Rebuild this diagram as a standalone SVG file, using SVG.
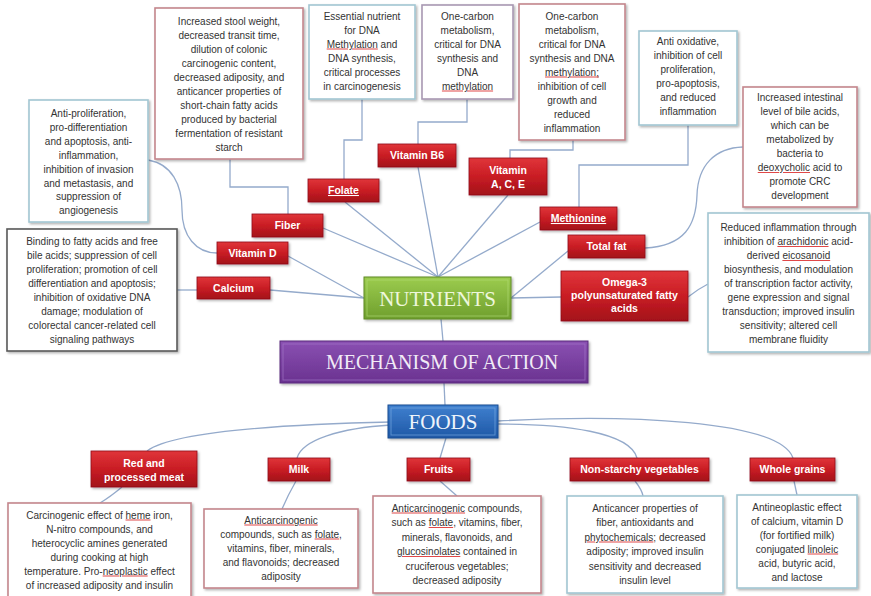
<svg xmlns="http://www.w3.org/2000/svg" width="871" height="596" viewBox="0 0 871 596">
<defs>
<linearGradient id="red" x1="0" y1="0" x2="0" y2="1">
<stop offset="0" stop-color="#e0353a"/><stop offset="0.5" stop-color="#c91d24"/><stop offset="1" stop-color="#a3111a"/>
</linearGradient>
<linearGradient id="green" x1="0" y1="0" x2="0" y2="1">
<stop offset="0" stop-color="#9ccc4e"/><stop offset="1" stop-color="#6f9f2e"/>
</linearGradient>
<linearGradient id="purple" x1="0" y1="0" x2="0" y2="1">
<stop offset="0" stop-color="#8a50b2"/><stop offset="1" stop-color="#6a3290"/>
</linearGradient>
<linearGradient id="blue" x1="0" y1="0" x2="0" y2="1">
<stop offset="0" stop-color="#3f80cf"/><stop offset="1" stop-color="#1f58a6"/>
</linearGradient>
<filter id="sh" x="-10%" y="-10%" width="130%" height="130%">
<feDropShadow dx="1.5" dy="1.5" stdDeviation="1" flood-color="#000" flood-opacity="0.3"/>
</filter>
</defs>
<style>
.tb rect{fill:#fff;stroke-width:1.6;filter:url(#sh)}
.tb text{font-family:"Liberation Sans",Arial,sans-serif;font-size:10px;fill:#333;text-anchor:middle}
.bR rect{stroke:#c4868c}.bB rect{stroke:#a2c6d2}.bK rect{stroke:#595959}.bP rect{stroke:#a898b2}
.rb rect{fill:url(#red);stroke:#8e1016;stroke-width:0.8;filter:url(#sh)}
.rb text{font-family:"Liberation Sans",Arial,sans-serif;font-weight:bold;font-size:10.5px;fill:#fff;text-anchor:middle}
.ul{text-decoration:underline}
.tb .wv{text-decoration:underline;fill:#e04848}
.tb .wv tspan{fill:#333}
.ttl text{font-family:"Liberation Serif","Times New Roman",serif;text-anchor:middle}
#connectors path{fill:none;stroke:#94aacb;stroke-width:1.3}
</style>
<rect width="871" height="596" fill="#fff"/>
<g id="connectors">
<path d="M418,167 L438,277"/>
<path d="M345,202 L438,277"/>
<path d="M323,228 L438,277"/>
<path d="M288,256 L364,298"/>
<path d="M270,290 L364,298"/>
<path d="M508,195 L438,277"/>
<path d="M540,222 L438,277"/>
<path d="M568,251 L511,298"/>
<path d="M561,297 L511,298"/>
<path d="M441,319 L443,341"/>
<path d="M444,383 L445,405"/>
<path d="M230,159 V187 H288 V214"/>
<path d="M362,99 V140 H344 V179"/>
<path d="M467,99 V122 H418 V144"/>
<path d="M573,140 V150 H510 V158"/>
<path d="M688,125 V165 H579 V207"/>
<path d="M645,248 C685,246 696,225 697,195 C698,165 715,148 743,147"/>
<path d="M688,297 Q698,289 708,284"/>
<path d="M148,160 C172,164 182,185 182,210 C182,236 196,253 217,253"/>
<path d="M177,290 H197"/>
<path d="M391,422 C300,424 175,430 147,451"/>
<path d="M391,425 C340,428 302,440 297,458"/>
<path d="M446,438 L440,458"/>
<path d="M498,424 C565,424 630,432 637,458"/>
<path d="M498,421 C625,414 780,420 793,458"/>
<path d="M122,487 Q110,497 100,503"/>
<path d="M296,481 Q288,495 282,509"/>
<path d="M440,481 L457,496"/>
<path d="M635,481 Q642,490 643,496"/>
<path d="M794,481 L797,495"/>
</g>

<g id="nutrients" class="ttl">
<rect x="364" y="277" width="147" height="42" fill="url(#green)" stroke="#5f8a26" stroke-width="1" filter="url(#sh)"/>
<rect x="367" y="280" width="141" height="36" fill="none" stroke="#b5dd7a" stroke-width="1" opacity="0.6"/>
<text x="437.5" y="305.5" font-size="21" fill="#eef7dc">NUTRIENTS</text>
</g>
<g id="mechanism" class="ttl">
<rect x="280" y="341" width="308" height="42" fill="url(#purple)" stroke="#5a2a7c" stroke-width="1" filter="url(#sh)"/>
<rect x="283" y="344" width="302" height="36" fill="none" stroke="#a97ccb" stroke-width="1" opacity="0.6"/>
<text x="442" y="369" font-size="20" fill="#f1ebf6">MECHANISM OF ACTION</text>
</g>
<g id="foods" class="ttl">
<rect x="388" y="405" width="110" height="33" fill="url(#blue)" stroke="#184d92" stroke-width="1" filter="url(#sh)"/>
<rect x="391" y="408" width="104" height="27" fill="none" stroke="#7fb0e6" stroke-width="1" opacity="0.6"/>
<text x="443" y="429" font-size="21" fill="#eef4fb">FOODS</text>
</g>

<g id="vitaminb6" class="rb"><rect x="378" y="144" width="78" height="23"/><text x="417" y="159">Vitamin B6</text></g>
<g id="folate" class="rb"><rect x="308" y="179" width="71" height="23"/><text x="343.5" y="194" class="ul">Folate</text></g>
<g id="fiber" class="rb"><rect x="252" y="214" width="71" height="23"/><text x="287.5" y="229">Fiber</text></g>
<g id="vitamind" class="rb"><rect x="217" y="242" width="71" height="22"/><text x="252.5" y="256.5">Vitamin D</text></g>
<g id="calcium" class="rb"><rect x="197" y="277" width="73" height="22"/><text x="233.5" y="291.5">Calcium</text></g>
<g id="vitaminace" class="rb"><rect x="469" y="158" width="78" height="37"/><text x="508" y="173.5">Vitamin</text><text x="508" y="187.5">A, C, E</text></g>
<g id="methionine" class="rb"><rect x="540" y="207" width="77" height="23"/><text x="578.5" y="222" class="ul">Methionine</text></g>
<g id="totalfat" class="rb"><rect x="568" y="235" width="77" height="23"/><text x="606.5" y="250">Total fat</text></g>
<g id="omega3" class="rb"><rect x="561" y="271" width="127" height="50"/><text x="624.5" y="286">Omega-3</text><text x="624.5" y="299">polyunsaturated fatty</text><text x="624.5" y="312">acids</text></g>
<g id="redmeat" class="rb"><rect x="91" y="451" width="106" height="36"/><text x="144" y="466.5">Red and</text><text x="144" y="480.5">processed meat</text></g>
<g id="milk" class="rb"><rect x="268" y="458" width="62" height="23"/><text x="299" y="473">Milk</text></g>
<g id="fruits" class="rb"><rect x="407" y="458" width="63" height="23"/><text x="438.5" y="473">Fruits</text></g>
<g id="nonstarchy" class="rb"><rect x="570" y="458" width="139" height="23"/><text x="639.5" y="473">Non-starchy vegetables</text></g>
<g id="wholegrains" class="rb"><rect x="750" y="458" width="85" height="23"/><text x="792.5" y="473">Whole grains</text></g>

<g id="fiber-text" class="tb bR"><rect x="155" y="8" width="148" height="151"/>
<text x="229" y="24.5">Increased stool weight,</text>
<text x="229" y="38.5">decreased transit time,</text>
<text x="229" y="52.5">dilution of colonic</text>
<text x="229" y="66.5">carcinogenic content,</text>
<text x="229" y="80.5">decreased adiposity, and</text>
<text x="229" y="94.5">anticancer properties of</text>
<text x="229" y="108.5">short-chain fatty acids</text>
<text x="229" y="122.5">produced by bacterial</text>
<text x="229" y="136.5">fermentation of resistant</text>
<text x="229" y="150.5">starch</text>
</g>
<g id="vitamind-text" class="tb bB"><rect x="29" y="100" width="119" height="122"/>
<text x="88.5" y="117">Anti-proliferation,</text>
<text x="88.5" y="131">pro-differentiation</text>
<text x="88.5" y="145">and apoptosis, anti-</text>
<text x="88.5" y="159">inflammation,</text>
<text x="88.5" y="173">inhibition of invasion</text>
<text x="88.5" y="187">and metastasis, and</text>
<text x="88.5" y="200">suppression of</text>
<text x="88.5" y="214">angiogenesis</text>
</g>
<g id="calcium-text" class="tb bK"><rect x="7" y="229" width="170" height="122"/>
<text x="92" y="244.5">Binding to fatty acids and free</text>
<text x="92" y="258.5">bile acids; suppression of cell</text>
<text x="92" y="272.5">proliferation; promotion of cell</text>
<text x="92" y="286.5">differentiation and apoptosis;</text>
<text x="92" y="300.5">inhibition of oxidative DNA</text>
<text x="92" y="314.5">damage; modulation of</text>
<text x="92" y="328.5">colorectal cancer-related cell</text>
<text x="92" y="342.5">signaling  pathways</text>
</g>
<g id="folate-text" class="tb bB"><rect x="309" y="5" width="106" height="94"/>
<text x="362" y="19.5">Essential nutrient</text>
<text x="362" y="33.5">for DNA</text>
<text x="362" y="47.5"><tspan class="wv"><tspan>Methylation</tspan></tspan> and</text>
<text x="362" y="61.5">DNA synthesis,</text>
<text x="362" y="75.5">critical processes</text>
<text x="362" y="89.5">in carcinogenesis</text>
</g>
<g id="vitaminb6-text" class="tb bP"><rect x="422" y="5" width="91" height="94"/>
<text x="467.5" y="19.5">One-carbon</text>
<text x="467.5" y="33.5">metabolism,</text>
<text x="467.5" y="47.5">critical  for DNA</text>
<text x="467.5" y="61.5">synthesis and</text>
<text x="467.5" y="75.5">DNA</text>
<text x="467.5" y="89.5"><tspan class="wv"><tspan>methylation</tspan></tspan></text>
</g>
<g id="vitaminace-text" class="tb bR"><rect x="519" y="4" width="106" height="136"/>
<text x="572" y="19.5">One-carbon</text>
<text x="572" y="33.5">metabolism,</text>
<text x="572" y="47.5">critical for DNA</text>
<text x="572" y="61.5">synthesis and DNA</text>
<text x="572" y="75.5"><tspan class="wv"><tspan>methylation;</tspan></tspan></text>
<text x="572" y="89.5">inhibition of cell</text>
<text x="572" y="103.5">growth and</text>
<text x="572" y="117.5">reduced</text>
<text x="572" y="131.5">inflammation</text>
</g>
<g id="methionine-text" class="tb bB"><rect x="639" y="31" width="98" height="94"/>
<text x="688" y="45">Anti oxidative,</text>
<text x="688" y="59">inhibition of cell</text>
<text x="688" y="73">proliferation,</text>
<text x="688" y="87">pro-apoptosis,</text>
<text x="688" y="101">and reduced</text>
<text x="688" y="115">inflammation</text>
</g>
<g id="totalfat-text" class="tb bR"><rect x="743" y="87" width="114" height="120"/>
<text x="800" y="101">Increased intestinal</text>
<text x="800" y="115">level of bile acids,</text>
<text x="800" y="129">which can be</text>
<text x="800" y="143">metabolized by</text>
<text x="800" y="157">bacteria to</text>
<text x="800" y="171"><tspan class="wv"><tspan>deoxycholic</tspan></tspan> acid to</text>
<text x="800" y="185">promote CRC</text>
<text x="800" y="199">development</text>
</g>
<g id="omega3-text" class="tb bB"><rect x="708" y="213" width="161" height="139"/>
<text x="788.5" y="231">Reduced inflammation through</text>
<text x="788.5" y="245">inhibition of <tspan class="wv"><tspan>arachidonic</tspan></tspan>  acid-</text>
<text x="788.5" y="259">derived <tspan class="wv"><tspan>eicosanoid</tspan></tspan></text>
<text x="788.5" y="273">biosynthesis, and modulation</text>
<text x="788.5" y="287">of transcription factor activity,</text>
<text x="788.5" y="301">gene expression and signal</text>
<text x="788.5" y="315">transduction; improved insulin</text>
<text x="788.5" y="329">sensitivity; altered cell</text>
<text x="788.5" y="343">membrane fluidity</text>
</g>

<g id="redmeat-text" class="tb bR"><rect x="8" y="503" width="183" height="100"/>
<text x="99.5" y="518.5">Carcinogenic effect of <tspan class="wv"><tspan>heme</tspan></tspan> iron,</text>
<text x="99.5" y="532.5">N-nitro compounds, and</text>
<text x="99.5" y="546.5">heterocyclic amines generated</text>
<text x="99.5" y="560.5">during cooking at high</text>
<text x="99.5" y="574.5">temperature. Pro-<tspan class="wv"><tspan>neoplastic</tspan></tspan> effect</text>
<text x="99.5" y="588.5">of increased adiposity and insulin</text>
</g>
<g id="milk-text" class="tb bR"><rect x="204" y="509" width="154" height="79"/>
<text x="281" y="523.5"><tspan class="wv"><tspan>Anticarcinogenic</tspan></tspan></text>
<text x="281" y="537.5">compounds, such as <tspan class="wv"><tspan>folate</tspan></tspan>,</text>
<text x="281" y="551.5">vitamins, fiber, minerals,</text>
<text x="281" y="565.5">and flavonoids; decreased</text>
<text x="281" y="579.5">adiposity</text>
</g>
<g id="fruits-text" class="tb bR"><rect x="373" y="496" width="168" height="97"/>
<text x="457" y="511.5"><tspan class="wv"><tspan>Anticarcinogenic</tspan></tspan> compounds,</text>
<text x="457" y="526">such as <tspan class="wv"><tspan>folate</tspan></tspan>, vitamins, fiber,</text>
<text x="457" y="540.5">minerals, flavonoids, and</text>
<text x="457" y="555"><tspan class="wv"><tspan>glucosinolates</tspan></tspan> contained in</text>
<text x="457" y="569.5">cruciferous vegetables;</text>
<text x="457" y="584">decreased adiposity</text>
</g>
<g id="nonstarchy-text" class="tb bB"><rect x="567" y="496" width="156" height="97"/>
<text x="645" y="511.5">Anticancer properties of</text>
<text x="645" y="526">fiber, antioxidants and</text>
<text x="645" y="540.5"><tspan class="wv"><tspan>phytochemicals</tspan></tspan>; decreased</text>
<text x="645" y="555">adiposity; improved insulin</text>
<text x="645" y="569.5">sensitivity and decreased</text>
<text x="645" y="584">insulin level</text>
</g>
<g id="wholegrains-text" class="tb bB"><rect x="737" y="495" width="120" height="93"/>
<text x="797" y="510.5">Antineoplastic effect</text>
<text x="797" y="524.5">of calcium, vitamin D</text>
<text x="797" y="538.5">(for fortified milk)</text>
<text x="797" y="552.5">conjugated <tspan class="wv"><tspan>linoleic</tspan></tspan></text>
<text x="797" y="566.5">acid,  butyric acid,</text>
<text x="797" y="580.5">and lactose</text>
</g>
</svg>
